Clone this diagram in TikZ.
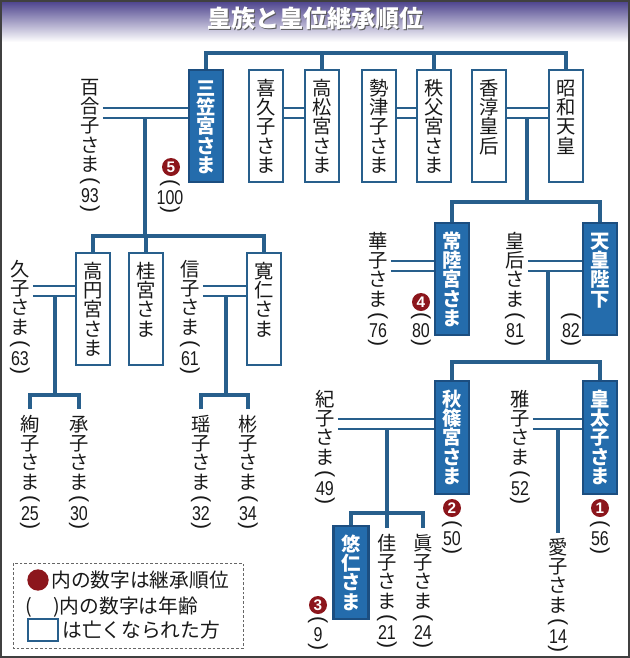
\documentclass[tikz,border=0pt]{standalone}
\usepackage{fontspec}
\usepackage{graphicx}
\setmainfont{Noto Sans CJK JP}
\newfontfamily\agefontfam[FakeStretch=0.8]{Liberation Sans}
\newfontfamily\numfontfam{Liberation Sans}
\definecolor{lineblue}{RGB}{40,95,140}
\definecolor{boxblue}{RGB}{36,108,172}
\definecolor{boxedge}{RGB}{28,78,128}
\definecolor{rankred}{RGB}{140,22,28}
\definecolor{titletop}{RGB}{72,62,138}
\definecolor{titlemid}{RGB}{150,144,200}
\definecolor{inkgray}{RGB}{25,25,25}
\newcommand\namefont{\fontsize{14.5pt}{14.5pt}\selectfont}
\newcommand\bnamefont{\fontsize{14.5pt}{14.5pt}\selectfont\bfseries}
\newcommand\agef{\agefontfam\fontsize{15pt}{15pt}\selectfont}
\newcommand\parenf{\numfontfam\fontsize{16pt}{16pt}\selectfont}
\newcommand\legfont{\fontsize{14.8pt}{14.8pt}\selectfont}
\newcommand\rankfont{\numfontfam\bfseries\fontsize{11.5pt}{11.5pt}\selectfont}
\newcommand\titlefont{\fontsize{18pt}{18pt}\selectfont\bfseries}
\newlength\cw
\def\vsend{VSEND}
\def\vsa#1{\ifx#1\vsend\else\hbox to \cw{\hss\rule[-0.12em]{0pt}{1em}#1\hss}\expandafter\vsa\fi}
\newcommand\vsetup{\setlength\cw{1.3em}\baselineskip=1em\lineskiplimit=-100pt\lineskip=0pt}
\newcommand\agebox[1]{\vbox{\offinterlineskip\agef
  \hbox to 18pt{\hss\rotatebox[origin=c]{-90}{\parenf(}\hss}\vskip1.5pt
  \hbox to 18pt{\hss #1\hss}\vskip1.5pt
  \hbox to 18pt{\hss\rotatebox[origin=c]{-90}{\parenf)}\hss}}}
\newcommand\vname[2][]{\vbox{\vsetup\vsa#2\vsend
  \ifx\relax#1\relax\else\prevdepth=-1000pt\vskip3pt\hbox to\cw{\hss\agebox{#1}\hss}\fi}}
\newcommand\vboxed[2]{\vbox to #1{\vsetup\vskip6pt\vsa#2\vsend\vss}}
\begin{document}
\begin{tikzpicture}[x=0.75pt,y=-0.75pt,
  wbox/.style={draw=lineblue, line width=1.6pt, fill=white, inner sep=0pt,
    minimum width=25.5pt, anchor=north, font=\namefont, text=inkgray},
  bbox/.style={draw=boxedge, line width=1.6pt, fill=boxblue, inner sep=0pt,
    minimum width=25.5pt, anchor=north, font=\bnamefont, text=white},
  pname/.style={inner sep=0pt, anchor=north, font=\namefont, text=inkgray},
  agenode/.style={inner sep=0pt, anchor=north, text=inkgray},
  bus/.style={draw=lineblue, line width=2.4pt},
  wed/.style={draw=lineblue, line width=1.5pt},
  rank/.style={circle, fill=rankred, text=white, inner sep=0pt, minimum size=13.5pt, font=\rankfont},
  legtext/.style={inner sep=0pt, anchor=west, font=\legfont, text=inkgray}]
\useasboundingbox (0,0) rectangle (630,658);
\fill[white] (0,0) rectangle (630,658);
\shade[top color=titletop, middle color=titlemid, bottom color=white] (0,0) rectangle (630,42);
\draw[line width=1.2pt, draw=black!75] (0.8,0.8) rectangle (629.2,657.2);
% title
\node[font=\titlefont, text=black!65] (titleshadow) at (316.5,19.5) {皇族と皇位継承順位};
\node[font=\titlefont, text=white] (title) at (315,18) {皇族と皇位継承順位};
% top row
\node[bbox] (mikasa) at (206,69) {\vboxed{84pt}{三笠宮さま}};
\node[wbox] (kikuko) at (266,69) {\vboxed{84pt}{喜久子さま}};
\node[wbox] (takamatsu) at (322,69) {\vboxed{84pt}{高松宮さま}};
\node[wbox] (setsuko) at (379,69) {\vboxed{84pt}{勢津子さま}};
\node[wbox] (chichibu) at (434,69) {\vboxed{84pt}{秩父宮さま}};
\node[wbox] (kojun) at (489,69) {\vboxed{84pt}{香淳皇后}};
\node[wbox] (showa) at (566,69) {\vboxed{84pt}{昭和天皇}};
\node[pname] (yuriko) at (90,77) {\vname[93]{百合子さま}};
% second row left
\node[wbox] (takamado) at (93,252) {\vboxed{84pt}{高円宮さま}};
\node[wbox] (katsura) at (146,252) {\vboxed{84pt}{桂宮さま}};
\node[wbox] (tomohito) at (264,252) {\vboxed{84pt}{寛仁さま}};
\node[pname] (hisako) at (20,259) {\vname[63]{久子さま}};
\node[pname] (nobuko) at (190,259) {\vname[61]{信子さま}};
\node[pname] (ayako) at (30,414) {\vname[25]{絢子さま}};
\node[pname] (tsuguko) at (79,414) {\vname[30]{承子さま}};
\node[pname] (yoko) at (201,414) {\vname[32]{瑶子さま}};
\node[pname] (akiko) at (248,414) {\vname[34]{彬子さま}};
% second row right
\node[bbox] (hitachi) at (452,222) {\vboxed{84pt}{常陸宮さま}};
\node[bbox] (emperor) at (600,222) {\vboxed{84pt}{天皇陛下}};
\node[pname] (hanako) at (378,231) {\vname[76]{華子さま}};
\node[pname] (empress) at (515,231) {\vname[81]{皇后さま}};
% third row right
\node[bbox] (akishino) at (452,380) {\vboxed{84.75pt}{秋篠宮さま}};
\node[bbox] (crownprince) at (600,380) {\vboxed{84.75pt}{皇太子さま}};
\node[pname] (kiko) at (325,389) {\vname[49]{紀子さま}};
\node[pname] (masako) at (520,389) {\vname[52]{雅子さま}};
\node[pname] (aiko) at (558,537) {\vname[14]{愛子さま}};
% fourth row
\node[bbox, minimum width=26.25pt] (hisahito) at (351,525) {\vboxed{69.75pt}{悠仁さま}};
\node[pname] (kako) at (387,533) {\vname[21]{佳子さま}};
\node[pname] (mako) at (423,533) {\vname[24]{眞子さま}};
% ranks and ages
\node[rank] (r5) at (171,167) {5};
\node[agenode] (a5) at (170,179) {\agebox{100}};
\node[rank] (r4) at (421,302) {4};
\node[agenode] (a4) at (421,312) {\agebox{80}};
\node[agenode] (a0) at (571,312) {\agebox{82}};
\node[rank] (r2) at (452,508) {2};
\node[agenode] (a2) at (452,520) {\agebox{50}};
\node[rank] (r1) at (600,508) {1};
\node[agenode] (a1) at (600,520) {\agebox{56}};
\node[rank] (r3) at (318,605) {3};
\node[agenode] (a3) at (318,616) {\agebox{9}};
% connectors: top bus
\coordinate (b0) at (0,53);
\draw[bus] (mikasa.north) |- (showa.north |- b0) -- (showa.north);
\draw[bus] (takamatsu.north) -- (takamatsu.north |- b0);
\draw[bus] (chichibu.north) -- (chichibu.north |- b0);
% marriages top row
\coordinate (ma) at (0,108);
\coordinate (mb) at (0,118);
\foreach \p/\q in {yuriko/mikasa, kikuko/takamatsu, setsuko/chichibu, kojun/showa}{
  \draw[wed] (\p.east |- ma) -- (\q.west |- ma);
  \draw[wed] (\p.east |- mb) -- (\q.west |- mb);
}
% mikasa children
\coordinate (d1) at (145,118);
\coordinate (b1) at (0,236);
\draw[bus] (d1) -- (d1 |- b1);
\draw[bus] (takamado.north) |- (tomohito.north |- b1) -- (tomohito.north);
\draw[bus] (katsura.north) -- (katsura.north |- b1);
% second row left marriages
\coordinate (na) at (0,286);
\coordinate (nb) at (0,296);
\foreach \p/\q in {hisako/takamado, nobuko/tomohito}{
  \draw[wed] (\p.east |- na) -- (\q.west |- na);
  \draw[wed] (\p.east |- nb) -- (\q.west |- nb);
}
\coordinate (b2) at (0,395);
\coordinate (d2) at (55,296);
\draw[bus] (d2) -- (d2 |- b2);
\draw[bus] ([yshift=4pt]ayako.north) |- (tsuguko.north |- b2) -- ([yshift=4pt]tsuguko.north);
\coordinate (d3) at (226,296);
\draw[bus] (d3) -- (d3 |- b2);
\draw[bus] ([yshift=4pt]yoko.north) |- (akiko.north |- b2) -- ([yshift=4pt]akiko.north);
% showa children
\coordinate (d4) at (527,118);
\coordinate (b4) at (0,202);
\draw[bus] (d4) -- (d4 |- b4);
\draw[bus] (hitachi.north) |- (emperor.north |- b4) -- (emperor.north);
% second row right marriages
\coordinate (ha) at (0,261);
\coordinate (hb) at (0,271);
\foreach \p/\q in {hanako/hitachi, empress/emperor}{
  \draw[wed] (\p.east |- ha) -- (\q.west |- ha);
  \draw[wed] (\p.east |- hb) -- (\q.west |- hb);
}
\coordinate (d5) at (548,271);
\coordinate (b5) at (0,362);
\draw[bus] (d5) -- (d5 |- b5);
\draw[bus] (akishino.north) |- (crownprince.north |- b5) -- (crownprince.north);
% third row marriages
\coordinate (ka) at (0,419);
\coordinate (kb) at (0,429);
\foreach \p/\q in {kiko/akishino, masako/crownprince}{
  \draw[wed] (\p.east |- ka) -- (\q.west |- ka);
  \draw[wed] (\p.east |- kb) -- (\q.west |- kb);
}
\coordinate (d6) at (387,429);
\coordinate (b6) at (0,513);
\draw[bus] (d6) -- ([yshift=4pt]kako.north);
\draw[bus] (hisahito.north) |- (mako.north |- b6) -- ([yshift=4pt]mako.north);
\coordinate (d7) at (558,429);
\draw[bus] (d7) -- ([yshift=3pt]aiko.north);
% legend
\draw[draw=black!60, line width=0.6pt, dash pattern=on 2pt off 1.5pt] (13,563) rectangle (243,648);
\node[circle, fill=rankred, inner sep=0pt, minimum size=16pt] (legdot) at (38,580) {};
\node[legtext] (leg1) at (51,580) {内の数字は継承順位};
\node[legtext] (leg2) at (25,607) {(\hspace{16pt})内の数字は年齢};
\node[draw=lineblue, line width=1.5pt, fill=white, minimum width=23pt, minimum height=17pt, inner sep=0pt] (legbox) at (43,630) {};
\node[legtext] (leg3) at (62,630) {は亡くなられた方};
\end{tikzpicture}
\end{document}
